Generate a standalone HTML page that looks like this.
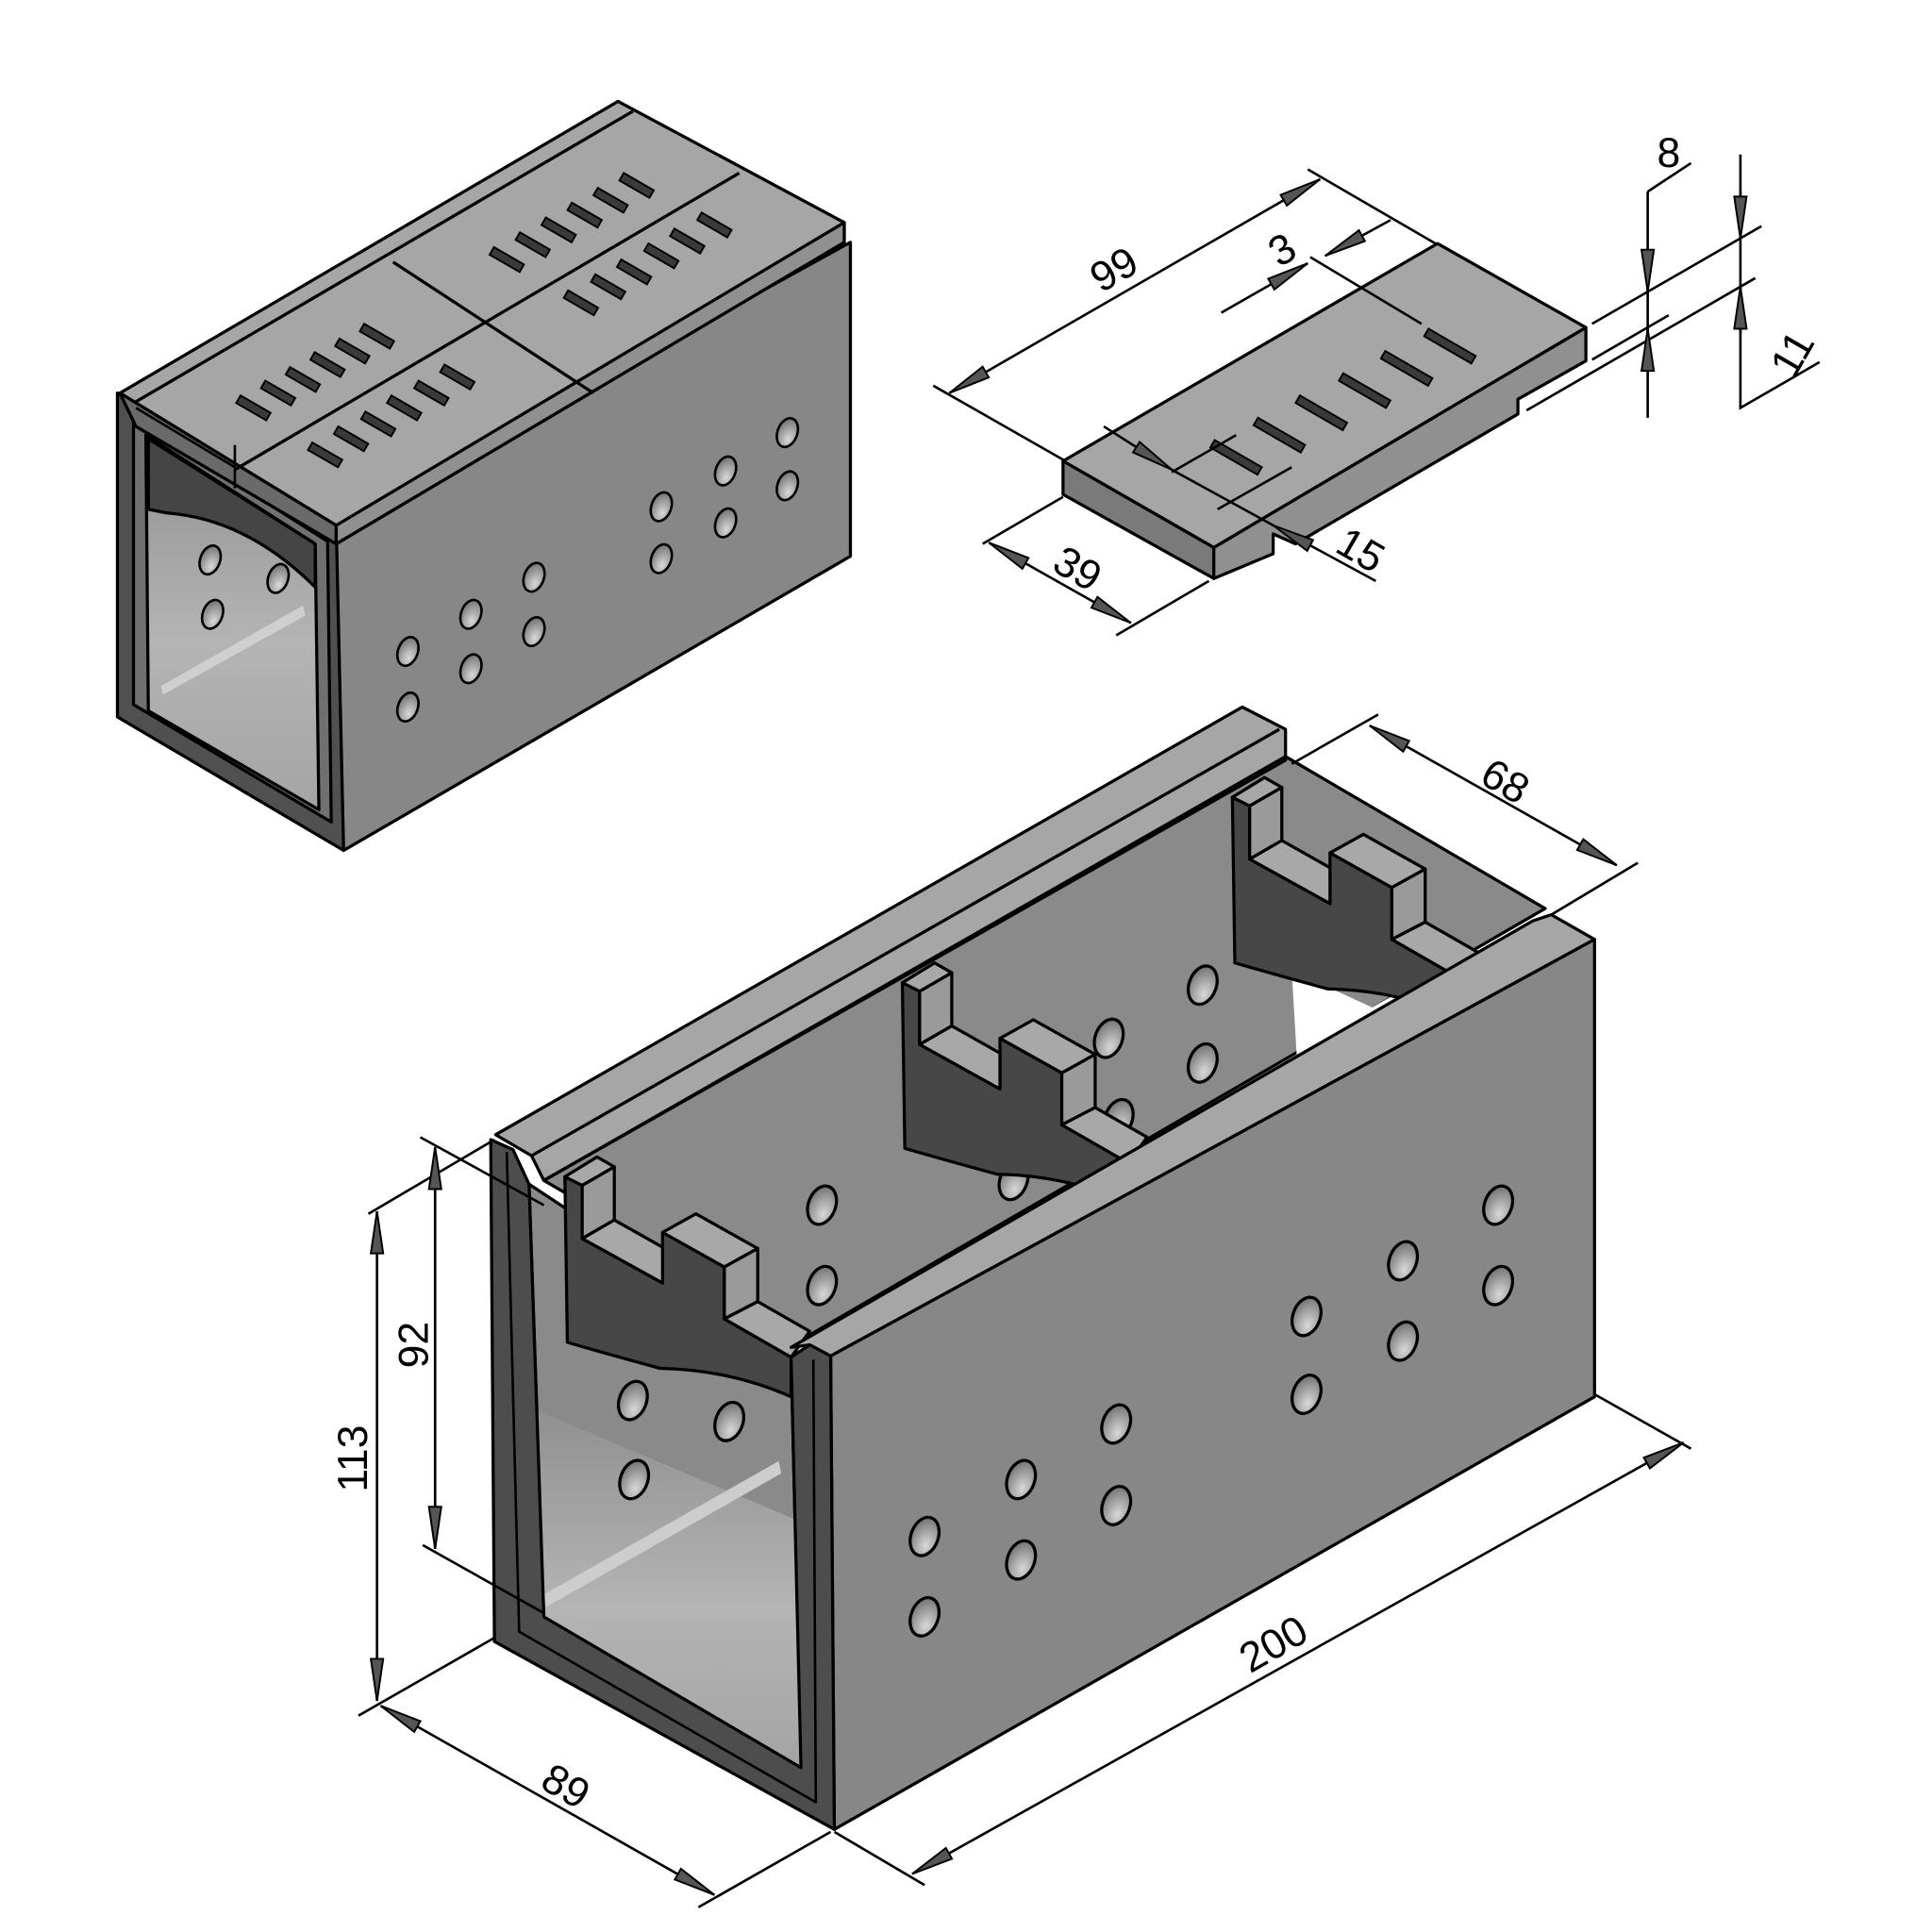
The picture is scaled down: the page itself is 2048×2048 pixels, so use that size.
<!DOCTYPE html>
<html><head><meta charset="utf-8"><style>
html,body{margin:0;padding:0;background:#fff}
svg{display:block}
text{font-family:"Liberation Sans",Arial,sans-serif;font-size:34px;fill:#000}
</style></head><body>
<svg width="2048" height="2048" viewBox="0 0 1563 1563" xmlns="http://www.w3.org/2000/svg">
<defs>
<marker id="ar" markerUnits="userSpaceOnUse" markerWidth="40" markerHeight="14" refX="0" refY="0" viewBox="-36 -7 38 14" orient="auto-start-reverse">
<path d="M0,0 L-34,-5 L-34,5 z" fill="#555" stroke="#000" stroke-width="1.5"/>
</marker>
<linearGradient id="fl" x1="0" y1="0" x2="0" y2="1">
<stop offset="0" stop-color="#909090"/><stop offset="0.55" stop-color="#b4b4b4"/><stop offset="1" stop-color="#a4a4a4"/>
</linearGradient>
<radialGradient id="hg" cx="0.65" cy="0.7" r="0.8"><stop offset="0" stop-color="#d8d8d8"/><stop offset="1" stop-color="#6a6a6a"/></radialGradient>
<g id="bh" stroke="#000" stroke-width="2.5" stroke-linejoin="round">
<path d="M457,952 L471,959 L471,1002 L536,1038 L536,997 L586,1025 L586,1067 L640,1098 L640,1130 Q590,1108 534,1107 Q490,1095 459,1086 Z" fill="#474747"/>
<path d="M457,952 L483,936 L497,944 L471,959 Z" fill="#a8a8a8"/>
<path d="M471,959 L497,944 L497,987 L471,1002 Z" fill="#9a9a9a"/>
<path d="M471,1002 L497,987 L536,1009 L536,1038 Z" fill="#a8a8a8"/>
<path d="M536,997 L563,982 L613,1010 L586,1025 Z" fill="#a8a8a8"/>
<path d="M586,1025 L613,1010 L613,1053 L586,1067 Z" fill="#9a9a9a"/>
<path d="M586,1067 L613,1053 L655,1077 L640,1098 Z" fill="#a8a8a8"/>
</g>
<ellipse id="hl" rx="11" ry="16" fill="url(#hg)" stroke="#000" stroke-width="2.5"/>
<ellipse id="hs" rx="8" ry="12" fill="url(#hg)" stroke="#000" stroke-width="2"/>
<rect id="sl" x="-14" y="-3.5" width="28" height="7" fill="#3a3a3a" stroke="#000" stroke-width="1.5"/>
<rect id="sl2" x="-22" y="-3.5" width="44" height="7" fill="#3a3a3a" stroke="#000" stroke-width="1.5"/>
</defs>

<!-- ========== TOP-LEFT UNIT ========== -->
<g stroke="#000" stroke-width="2.5" stroke-linejoin="round">
<path d="M95,318 L275,432 L278,688 L95,580 Z" fill="#505050"/>
<path d="M108,338 L265,438 L268,665 L108,570 Z" fill="#707070"/>
<path d="M118,352 L255,440 L258,655 L120,575 Z" fill="url(#fl)"/>
<path d="M120,355 L255,440 L255,475 Q200,420 135,415 L120,412 Z" fill="#454545"/>
<path d="M130,555 L245,490 L247,498 L132,562 Z" fill="#cfcfcf" stroke="none"/>
<path d="M272,425 L688,196 L688,450 L278,688 Z" fill="#878787"/>
<path d="M97,318 L500,82 L683,180 L683,196 L272,440 L272,425 Z" fill="#a6a6a6"/>
<path d="M97,318 L272,425 L272,440 L110,345 Z" fill="#6a6a6a"/>
<path d="M272,425 L683,180 L683,196 L272,440 Z" fill="#909090"/>
<path d="M110,325 L512,90" fill="none"/>
<path d="M190,380 L598,140" fill="none"/>
<path d="M318,212 L480,318" fill="none"/>
<path d="M190,360 L190,395 M190,378 L110,330" fill="none" stroke-width="2"/>
</g>
<g>
<use href="#sl" transform="translate(205,330) rotate(30)"/><use href="#sl" transform="translate(225,318) rotate(30)"/><use href="#sl" transform="translate(245,307) rotate(30)"/><use href="#sl" transform="translate(265,295) rotate(30)"/><use href="#sl" transform="translate(285,284) rotate(30)"/><use href="#sl" transform="translate(305,272) rotate(30)"/>
<use href="#sl" transform="translate(263,368) rotate(30)"/><use href="#sl" transform="translate(284,355) rotate(30)"/><use href="#sl" transform="translate(306,343) rotate(30)"/><use href="#sl" transform="translate(327,330) rotate(30)"/><use href="#sl" transform="translate(349,318) rotate(30)"/><use href="#sl" transform="translate(370,305) rotate(30)"/>
<use href="#sl" transform="translate(410,210) rotate(30)"/><use href="#sl" transform="translate(431,198) rotate(30)"/><use href="#sl" transform="translate(452,186) rotate(30)"/><use href="#sl" transform="translate(473,174) rotate(30)"/><use href="#sl" transform="translate(494,162) rotate(30)"/><use href="#sl" transform="translate(515,150) rotate(30)"/>
<use href="#sl" transform="translate(470,245) rotate(30)"/><use href="#sl" transform="translate(492,232) rotate(30)"/><use href="#sl" transform="translate(513,220) rotate(30)"/><use href="#sl" transform="translate(535,207) rotate(30)"/><use href="#sl" transform="translate(556,195) rotate(30)"/><use href="#sl" transform="translate(578,182) rotate(30)"/>
</g>
<g>
<use href="#hs" transform="translate(170,453) rotate(20)"/><use href="#hs" transform="translate(172,497) rotate(20)"/><use href="#hs" transform="translate(225,468) rotate(20)"/>
<use href="#hs" transform="translate(330,527) rotate(20)"/><use href="#hs" transform="translate(330,572) rotate(20)"/><use href="#hs" transform="translate(381,497) rotate(20)"/><use href="#hs" transform="translate(381,541) rotate(20)"/><use href="#hs" transform="translate(432,467) rotate(20)"/><use href="#hs" transform="translate(432,511) rotate(20)"/>
<use href="#hs" transform="translate(535,410) rotate(20)"/><use href="#hs" transform="translate(535,452) rotate(20)"/><use href="#hs" transform="translate(587,381) rotate(20)"/><use href="#hs" transform="translate(587,423) rotate(20)"/><use href="#hs" transform="translate(637,350) rotate(20)"/><use href="#hs" transform="translate(637,393) rotate(20)"/>
</g>

<!-- ========== TOP-RIGHT GRATE ========== -->
<g stroke="#000" stroke-width="2.5" stroke-linejoin="round">
<path d="M860,373 L1163,197 L1283,265 L982,443 Z" fill="#a6a6a6"/>
<path d="M860,373 L982,443 L982,468 L860,400 Z" fill="#7a7a7a"/>
<path d="M982,443 L1283,265 L1283,292 L1228,323 L1228,335 L1048,440 L1030,432 L1030,448 L982,468 Z" fill="#909090"/>
</g>
<g>
<use href="#sl2" transform="translate(1000,370) rotate(30)"/><use href="#sl2" transform="translate(1035,352) rotate(30)"/><use href="#sl2" transform="translate(1069,334) rotate(30)"/><use href="#sl2" transform="translate(1104,316) rotate(30)"/><use href="#sl2" transform="translate(1138,298) rotate(30)"/><use href="#sl2" transform="translate(1173,280) rotate(30)"/>
</g>

<!-- ========== BOTTOM UNIT ========== -->
<g stroke="#000" stroke-width="2.5" stroke-linejoin="round">
<path d="M440,955 L1040,612 L1250,735 L655,1080 Z" fill="#8a8a8a"/>
<path d="M1045,785 L1110,815 L1190,770 L1190,790 L1050,870 Z" fill="#ffffff" stroke="none"/>
<path d="M428,958 L640,1098 L648,1430 L440,1308 Z" fill="#8a8a8a"/>
<path d="M432,1140 L645,1230 L648,1430 L440,1308 Z" fill="url(#fl)" stroke="none"/>
<path d="M440,1290 L630,1182 L632,1192 L442,1300 Z" fill="#cdcdcd" stroke="none"/>
</g>
<g>
<use href="#hl" transform="translate(512,1133) rotate(20)"/><use href="#hl" transform="translate(590,1150) rotate(20)"/><use href="#hl" transform="translate(513,1197) rotate(20)"/>
<use href="#hl" transform="translate(665,975) rotate(20)"/><use href="#hl" transform="translate(665,1040) rotate(20)"/><use href="#hl" transform="translate(897,840) rotate(20)"/><use href="#hl" transform="translate(973,797) rotate(20)"/><use href="#hl" transform="translate(973,860) rotate(20)"/><use href="#hl" transform="translate(905,905) rotate(20)"/><use href="#hl" transform="translate(820,955) rotate(20)"/>
</g>
<use href="#bh" transform="translate(540,-307)"/>
<use href="#bh" transform="translate(273,-157)"/>
<use href="#bh"/>
<g stroke="#000" stroke-width="2.5" stroke-linejoin="round">
<path d="M640,1090 L1240,745 L1255,740 L1290,760 L672,1097 L655,1088 Z" fill="#a6a6a6"/>
<path d="M672,1097 L1290,760 L1290,1130 L675,1480 Z" fill="#878787"/>
<path d="M401,918 L1005,572 L1040,590 L1040,615 L440,955 L430,935 Z" fill="#a6a6a6"/>
<path d="M430,935 L1035,590 M440,955 L1040,612" fill="none"/>
<path d="M397,922 L415,930 L428,958 L440,1308 L648,1430 L640,1098 L655,1088 L672,1097 L675,1480 L400,1328 Z" fill="#4d4d4d"/>
<path d="M410,932 L420,1320 L660,1458 L658,1100" fill="none" stroke-width="2"/>
</g>
<g>
<use href="#hl" transform="translate(748,1243) rotate(20)"/><use href="#hl" transform="translate(748,1308) rotate(20)"/><use href="#hl" transform="translate(826,1197) rotate(20)"/><use href="#hl" transform="translate(826,1262) rotate(20)"/><use href="#hl" transform="translate(903,1152) rotate(20)"/><use href="#hl" transform="translate(903,1218) rotate(20)"/>
<use href="#hl" transform="translate(1057,1065) rotate(20)"/><use href="#hl" transform="translate(1057,1128) rotate(20)"/><use href="#hl" transform="translate(1135,1020) rotate(20)"/><use href="#hl" transform="translate(1135,1085) rotate(20)"/><use href="#hl" transform="translate(1212,975) rotate(20)"/><use href="#hl" transform="translate(1212,1040) rotate(20)"/>
</g>

<!-- ========== DIMENSIONS ========== -->
<g stroke="#000" stroke-width="2" fill="none">
<path d="M755,312 L862,373 M1058,137 L1163,198"/>
<path d="M768,318 L1068,145" marker-start="url(#ar)" marker-end="url(#ar)"/>
<path d="M1060,208 L1150,262"/>
<path d="M988,253 L1058,213" marker-end="url(#ar)"/>
<path d="M1125,178 L1072,207" marker-end="url(#ar)"/>
<path d="M1288,262 L1425,183 M1288,291 L1350,255 M1235,332 L1420,225"/>
<path d="M1333,155 L1333,338 M1333,155 L1368,132"/>
<path d="M1333,200 L1333,236" marker-end="url(#ar)"/>
<path d="M1333,302 L1333,266" marker-end="url(#ar)"/>
<path d="M1408,125 L1408,330 L1472,293"/>
<path d="M1408,155 L1408,193" marker-end="url(#ar)"/>
<path d="M1408,270 L1408,232" marker-end="url(#ar)"/>
<path d="M860,402 L795,440 M978,470 L903,514"/>
<path d="M800,439 L915,504" marker-start="url(#ar)" marker-end="url(#ar)"/>
<path d="M893,345 L948,380" marker-end="url(#ar)"/>
<path d="M1113,470 L1030,425" marker-end="url(#ar)"/>
<path d="M948,380 L1030,425"/>
<path d="M948,382 L1000,352 M985,412 L1045,378"/>
<path d="M1045,618 L1115,578 M1255,740 L1325,698"/>
<path d="M1108,587 L1308,700" marker-start="url(#ar)" marker-end="url(#ar)"/>
<path d="M675,1482 L748,1525 M1290,1128 L1368,1172"/>
<path d="M738,1516 L1362,1167" marker-start="url(#ar)" marker-end="url(#ar)"/>
<path d="M400,1325 L290,1388 M672,1482 L565,1543"/>
<path d="M308,1380 L578,1533" marker-start="url(#ar)" marker-end="url(#ar)"/>
<path d="M298,982 L400,922"/>
<path d="M305,980 L305,1376" marker-start="url(#ar)" marker-end="url(#ar)"/>
<path d="M340,920 L440,975 M342,1250 L440,1305"/>
<path d="M352,928 L352,1253" marker-start="url(#ar)" marker-end="url(#ar)"/>
</g>
<g text-anchor="middle">
<text transform="translate(907,228) rotate(-30)">99</text>
<text transform="translate(1043,212) rotate(-30)">3</text>
<text x="1350" y="135">8</text>
<text transform="translate(1460,292) rotate(-60)">11</text>
<text transform="translate(866,470) rotate(30)">39</text>
<text transform="translate(1095,455) rotate(30)">15</text>
<text transform="translate(1212,642) rotate(30)">68</text>
<text transform="translate(1036,1340) rotate(-30)">200</text>
<text transform="translate(452,1455) rotate(30)">89</text>
<text transform="translate(297,1180) rotate(-90)">113</text>
<text transform="translate(346,1088) rotate(-90)">92</text>
</g>
</svg>
</body></html>
